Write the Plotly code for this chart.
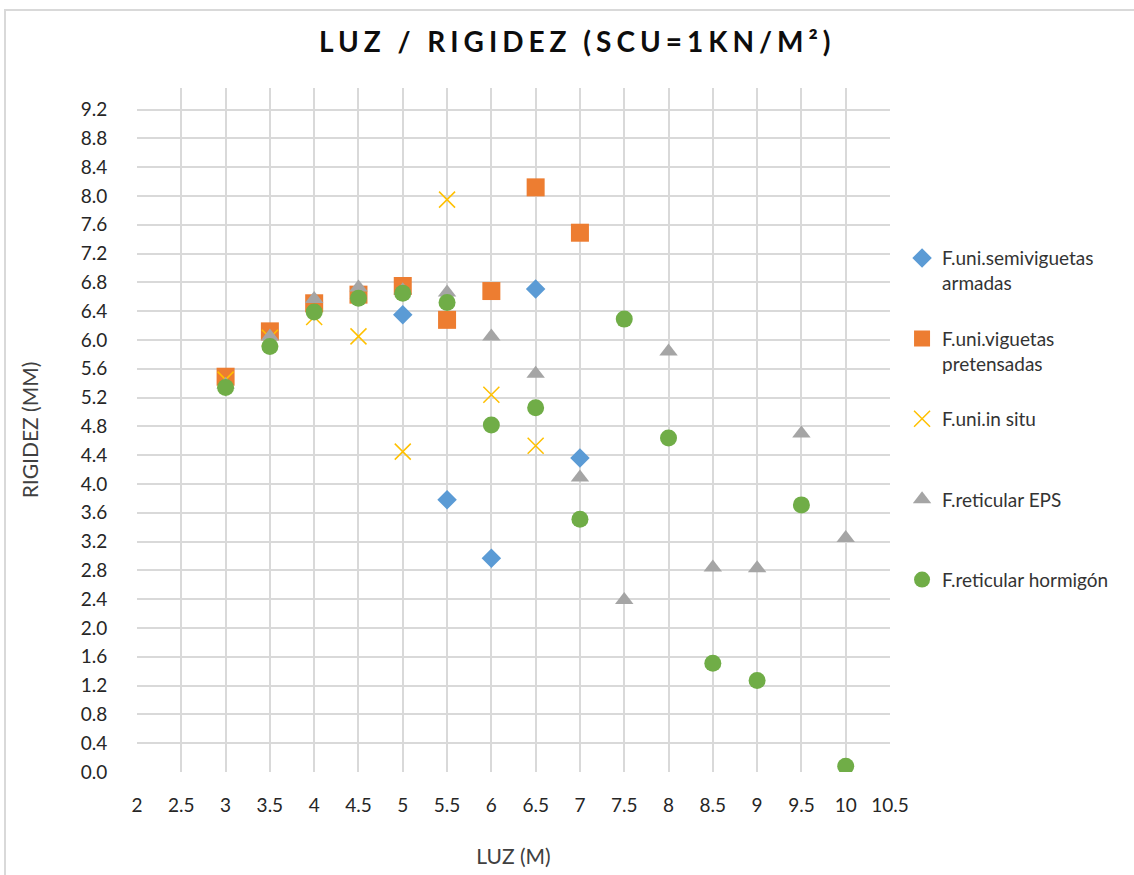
import plotly.graph_objects as go

luz = [3, 3.5, 4, 4.5, 5, 5.5, 6, 6.5, 7, 7.5, 8, 8.5, 9, 9.5, 10]

semi_x = [5, 5.5, 6, 6.5, 7]
semi_y = [6.35, 3.78, 2.97, 6.71, 4.36]

pret_x = [3, 3.5, 4, 4.5, 5, 5.5, 6, 6.5, 7]
pret_y = [5.49, 6.12, 6.51, 6.63, 6.75, 6.28, 6.68, 8.12, 7.49]

situ_x = [3, 3.5, 4, 4.5, 5, 5.5, 6, 6.5]
situ_y = [5.45, 6.03, 6.32, 6.05, 4.45, 7.95, 5.24, 4.53]

eps_x = luz
eps_y = [5.38, 6.05, 6.57, 6.73, 6.69, 6.66, 6.05, 5.53, 4.09, 2.39, 5.84, 2.84, 2.83, 4.70, 3.25]

horm_x = luz
horm_y = [5.34, 5.91, 6.39, 6.58, 6.65, 6.52, 4.82, 5.06, 3.51, 6.29, 4.64, 1.51, 1.27, 3.71, 0.08]

names = ["F.uni.semiviguetas<br>armadas", "F.uni.viguetas<br>pretensadas",
         "F.uni.in situ<br> ", "F.reticular EPS<br> ", "F.reticular hormigón<br> "]

FONT = "Lato"
TXT = "#404040"

fig = go.Figure()
fig.add_trace(go.Scatter(x=semi_x, y=semi_y, mode="markers", name=names[0], legendgroup="a",
                         marker=dict(symbol="diamond", size=15, color="#5B9BD5")))
fig.add_trace(go.Scatter(x=pret_x, y=pret_y, mode="markers", name=names[1], legendgroup="b",
                         marker=dict(symbol="square", size=18, color="#ED7D31")))
fig.add_trace(go.Scatter(x=situ_x, y=situ_y, mode="markers", name=names[2], legendgroup="c",
                         marker=dict(symbol="x-thin", size=16, color="#FFC000",
                                     line=dict(color="#FFC000", width=1.5))))
fig.add_trace(go.Scatter(x=eps_x, y=eps_y, mode="markers", name=names[3], legendgroup="d",
                         marker=dict(symbol="triangle-up", size=16, color="#A5A5A5")))
fig.add_trace(go.Scatter(x=horm_x, y=horm_y, mode="markers", name=names[4], legendgroup="e",
                         marker=dict(symbol="circle", size=17, color="#70AD47")))

fig.update_layout(
    width=1134, height=875,
    paper_bgcolor="white", plot_bgcolor="white",
    margin=dict(l=137, r=244, t=88, b=103),
    font=dict(family=FONT, color=TXT, size=18),
    title=dict(text='<span style="letter-spacing:5px">LUZ / RIGIDEZ (SCU=1KN/M²)</span>',
               x=0.509, xref="container", xanchor="center", y=0.952, yanchor="middle",
               font=dict(family=FONT, size=28, color="#0d0d0d", weight="bold")),
    legend=dict(x=1.016, y=0.779, xanchor="left", yanchor="top", valign="top",
                font=dict(size=19, color="#333333"), tracegroupgap=28, itemsizing="trace",
                itemwidth=30, bgcolor="rgba(0,0,0,0)"),
    xaxis=dict(range=[2, 10.5], dtick=0.5, tick0=2, showgrid=True, gridcolor="#d9d9d9",
               gridwidth=1.5, zeroline=False, showline=False, ticks="outside", ticklen=16,
               tickcolor="rgba(0,0,0,0)", tickfont=dict(size=19, color="#262626"),
               title=dict(text="LUZ (M)", standoff=34, font=dict(size=21, color=TXT))),
    yaxis=dict(range=[0, 9.5], dtick=0.4, tick0=0, tickformat=".1f", showgrid=True,
               gridcolor="#d9d9d9", gridwidth=1.5, zeroline=False, showline=False,
               ticks="outside", ticklen=25, tickcolor="rgba(0,0,0,0)",
               tickfont=dict(size=19, color="#262626"),
               title=dict(text="RIGIDEZ (MM)", standoff=36, font=dict(size=21, color=TXT))),
    shapes=[dict(type="rect", xref="paper", yref="paper", x0=-0.1753, x1=1.4, y0=-0.2, y1=1.114,
                 line=dict(color="#d9d9d9", width=2), fillcolor="rgba(0,0,0,0)", layer="below")],
)

fig.write_html("out.html", config={"displayModeBar": False},
               post_script="document.body.style.margin='0px';")
